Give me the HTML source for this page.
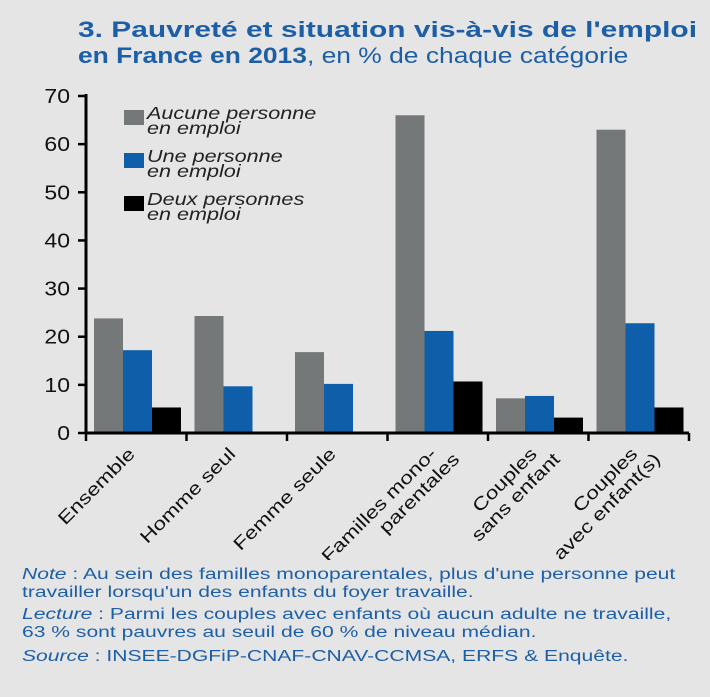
<!DOCTYPE html>
<html><head><meta charset="utf-8"><style>
body{margin:0;width:710px;height:697px;background:#e5e5e5;font-family:"Liberation Sans",sans-serif;overflow:hidden;position:relative}
.tl{position:absolute;left:78px;color:#1d5fa7;font-size:22px;font-weight:bold;white-space:nowrap;transform-origin:0 0}
.tl span{font-weight:normal}
.nl{position:absolute;left:22px;color:#1d5fa7;font-size:15.5px;white-space:nowrap;transform-origin:0 0;transform:scaleX(1.36)}
</style></head><body>
<div class="tl" style="top:17px;transform:scaleX(1.36)">3. Pauvreté et situation vis-à-vis de l'emploi</div>
<div class="tl" style="top:43px;transform:scaleX(1.2)">en France en 2013<span>, en % de chaque catégorie</span></div>
<svg id="chart" width="710" height="560" style="position:absolute;left:0;top:0"></svg>
<div>
<div class="nl" style="top:566px"><i>Note</i> : Au sein des familles monoparentales, plus d'une personne peut</div>
<div class="nl" style="top:584px">travailler lorsqu'un des enfants du foyer travaille.</div>
<div class="nl" style="top:606px"><i>Lecture</i> : Parmi les couples avec enfants où aucun adulte ne travaille,</div>
<div class="nl" style="top:624px">63 % sont pauvres au seuil de 60 % de niveau médian.</div>
<div class="nl" style="top:648px"><i>Source</i> : INSEE-DGFiP-CNAF-CNAV-CCMSA, ERFS &amp; Enquête.</div>
</div>
<script>
const categories=[["Ensemble"],["Homme seul"],["Femme seule"],["Familles mono-","parentales"],["Couples","sans enfant"],["Couples","avec enfant(s)"]];
const aucune=[23.8,24.3,16.8,66,7.2,63];
const une=[17.2,9.7,10.2,21.2,7.7,22.8];
const deux=[5.3,0,0,10.7,3.2,5.3];
const yTicks=[0,10,20,30,40,50,60,70];
const seriesNames=[["Aucune personne","en emploi"],["Une personne","en emploi"],["Deux personnes","en emploi"]];
const NS="http://www.w3.org/2000/svg";
const svg=document.getElementById('chart');
const x0=86,y0=433,gw=100.5,bw=29;
const yS=v=>y0-v*(y0-96)/70;
function mk(t,a){const e=document.createElementNS(NS,t);for(const k in a)e.setAttribute(k,a[k]);svg.appendChild(e);return e;}
const colors=["#757879","#0e5ea9","#000"];
const series=[aucune,une,deux];
series.forEach((s,si)=>{s.forEach((v,i)=>{if(v<=0)return;
const r=mk('rect',{x:x0+i*gw+8+si*bw,y:yS(v),width:bw,height:y0-yS(v),fill:colors[si]});

});});
yTicks.forEach(t=>{const y=yS(t);
mk('line',{x1:x0-8,x2:x0,y1:y,y2:y,stroke:'#000','stroke-width':2.5});
const tx=mk('text',{x:x0-16,y:y+7,'text-anchor':'end','font-size':20,fill:'#111',transform:`translate(${x0-16},0) scale(1.15,1) translate(${-(x0-16)},0)`});tx.textContent=t;

});
const ax=mk('line',{x1:x0,x2:x0,y1:94,y2:y0+1,stroke:'#000','stroke-width':3});


const bx=mk('line',{x1:x0-1,x2:x0+gw*categories.length,y1:y0,y2:y0,stroke:'#000','stroke-width':3});


for(let i=0;i<=categories.length;i++){const xx=x0+i*gw;mk('line',{x1:xx,x2:xx,y1:y0,y2:y0+8,stroke:'#000','stroke-width':2.5});}
categories.forEach((c,i)=>{const cx=x0+i*gw+50,cy=455;
const g=document.createElementNS(NS,'g');g.setAttribute('transform',`translate(${cx},${cy}) rotate(-45) scale(1.25,1)`);svg.appendChild(g);


c.forEach((line,li)=>{const t=document.createElementNS(NS,'text');t.setAttribute('x',li*10);t.setAttribute('y',li*20);t.setAttribute('text-anchor','end');t.setAttribute('font-size',18);t.setAttribute('fill','#111');t.textContent=line;g.appendChild(t);});});
seriesNames.forEach((n,i)=>{const y=110+i*43;
const r=mk('rect',{x:124,y:y,width:20,height:15,fill:colors[i]});


n.forEach((s,li)=>{const t=mk('text',{x:147,y:y+9+li*15,'font-size':18,'font-style':'italic',fill:'#222',transform:`translate(147,0) scale(1.2,1) translate(-147,0)`});t.textContent=s;

});});
</script>
</body></html>
